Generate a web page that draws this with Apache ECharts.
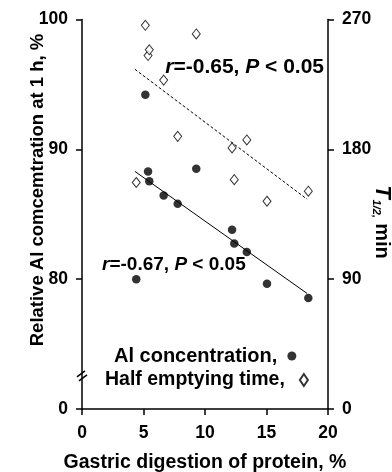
<!DOCTYPE html>
<html>
<head>
<meta charset="utf-8">
<script src="https://cdn.jsdelivr.net/npm/echarts@6/dist/echarts.min.js"></script>
<style>
  html, body { margin: 0; padding: 0; background: #fff; }
  #chart { width: 392px; height: 472px; }
</style>
</head>
<body>
<div id="chart"></div>
<script>
// gastric digestion of protein, % (shared by both series)
const digestion = [4.41, 5.15, 5.37, 5.47, 6.64, 7.78, 9.29, 12.2, 12.38, 13.4, 15.04, 18.4];
// relative Al concentration at 1 h, %
const alConc = [80.0, 94.2, 88.3, 87.55, 86.45, 85.8, 88.5, 83.8, 82.75, 82.1, 79.65, 78.55];
// half emptying time, min
const halfTime = [157, 266, 245, 249, 228, 189, 260, 181, 159, 186.5, 144, 151];

// regression line end points
const alFitX = [4.3, 18.3];
const alFitY = [88.3, 78.9];
const tFitX = [4.3, 18.3];
const tFitY = [235.5, 145.4];

const xTicks = [0, 5, 10, 15, 20];
const leftTicks = [70, 80, 90, 100]; // 70 is shown as 0 (axis break)
const rightTicks = [0, 90, 180, 270];

const font = 'Liberation Sans, Arial, sans-serif';

const chart = echarts.init(document.getElementById('chart'));

const axisCommon = {
  axisLine: { show: true, lineStyle: { color: '#000', width: 1.5 } },
  axisTick: { show: true, inside: false, length: 6, lineStyle: { color: '#000', width: 1.5 } },
  splitLine: { show: false },
  axisLabel: { color: '#000', fontFamily: font, fontWeight: 'bold', fontSize: 17.5 },
  nameTextStyle: { color: '#000', fontFamily: font, fontWeight: 'bold', fontSize: 18.5 },
};

const legendText = { color: '#000', fontFamily: font, fontWeight: 'bold', fontSize: 19.5 };

const option = {
  animation: false,
  grid: { left: 82, right: 64, top: 19.5, bottom: 63, outerBoundsMode: 'none' },
  legend: [
    {
      data: ['Al concentration,'],
      orient: 'vertical',
      align: 'right',
      left: 114,
      top: 346,
      padding: 0,
      itemWidth: 9,
      itemHeight: 9,
      textStyle: { ...legendText, fontSize: 20, padding: [0, 5, 0, 0] },
    },
    {
      data: ['Half emptying time,'],
      orient: 'vertical',
      align: 'right',
      left: 105,
      top: 370,
      padding: 0,
      itemWidth: 8,
      itemHeight: 12,
      symbolKeepAspect: false,
      textStyle: { ...legendText, padding: [0, 10, 0, 0] },
    },
  ],
  xAxis: {
    ...axisCommon,
    type: 'value',
    min: xTicks[0],
    max: xTicks[xTicks.length - 1],
    interval: 5,
    axisLabel: { ...axisCommon.axisLabel, margin: 15 },
    name: 'Gastric digestion of protein, %',
    nameLocation: 'middle',
    nameGap: 44,
    nameTextStyle: { ...axisCommon.nameTextStyle, fontSize: 19.5 },
  },
  yAxis: [
    {
      ...axisCommon,
      type: 'value',
      min: leftTicks[0],
      max: leftTicks[leftTicks.length - 1],
      interval: 10,
      axisLabel: {
        ...axisCommon.axisLabel,
        margin: 14,
        formatter: (v) => (v === 70 ? '0' : String(v)),
      },
    },
    {
      ...axisCommon,
      type: 'value',
      position: 'right',
      min: rightTicks[0],
      max: rightTicks[rightTicks.length - 1],
      interval: 90,
      axisLabel: { ...axisCommon.axisLabel, margin: 14 },
    },
  ],
  series: [
    {
      name: 'Al fit',
      type: 'line',
      data: alFitX.map((x, i) => [x, alFitY[i]]),
      symbol: 'none',
      lineStyle: { color: '#000', width: 1 },
      silent: true,
    },
    {
      name: 'T fit',
      type: 'line',
      yAxisIndex: 1,
      data: tFitX.map((x, i) => [x, tFitY[i]]),
      symbol: 'none',
      lineStyle: { color: '#000', width: 1, type: [3, 2] },
      silent: true,
    },
    {
      name: 'Half emptying time,',
      type: 'scatter',
      yAxisIndex: 1,
      data: digestion.map((x, i) => [x, halfTime[i]]),
      symbol: 'diamond',
      symbolSize: [8, 10],
      itemStyle: { color: '#fff', borderColor: '#000', borderWidth: 1 },
    },
    {
      name: 'Al concentration,',
      type: 'scatter',
      data: digestion.map((x, i) => [x, alConc[i]]),
      symbol: 'circle',
      symbolSize: 8.5,
      itemStyle: { color: '#000' },
    },
  ],
};

chart.setOption(option);

// annotations, axis titles and axis break
function annRich(size) {
  return {
    i: { fontFamily: font, fontWeight: 'bold', fontStyle: 'italic', fontSize: size, fill: '#000' },
    b: { fontFamily: font, fontWeight: 'bold', fontSize: size, fill: '#000' },
  };
}
const ann1 = chart.convertToPixel({ xAxisIndex: 0, yAxisIndex: 0 }, [6.77, 96.3]);
const ann2 = chart.convertToPixel({ xAxisIndex: 0, yAxisIndex: 0 }, [1.63, 81.1]);
const brk = chart.convertToPixel({ xAxisIndex: 0, yAxisIndex: 0 }, [0, 72.55]);

chart.setOption({
  graphic: [
    {
      type: 'text',
      x: 38,
      y: 190,
      rotation: Math.PI / 2,
      style: {
        text: 'Relative Al comcemtration at 1 h, %',
        fontFamily: font,
        fontWeight: 'bold',
        fontSize: 18.5,
        fill: '#000',
        align: 'center',
        verticalAlign: 'middle',
      },
    },
    {
      type: 'text',
      x: 382,
      y: 222,
      rotation: -Math.PI / 2,
      style: {
        text: '{i|T}{s|1/2,} {m|min}',
        rich: {
          i: { fontFamily: font, fontWeight: 'bold', fontStyle: 'italic', fontSize: 22, fill: '#000' },
          s: { fontFamily: font, fontWeight: 'bold', fontStyle: 'italic', fontSize: 11, fill: '#000', padding: [11, 2, 0, 1] },
          m: { fontFamily: font, fontWeight: 'bold', fontSize: 20, fill: '#000' },
        },
        align: 'center',
        verticalAlign: 'middle',
      },
    },
    {
      type: 'text',
      x: ann1[0],
      y: ann1[1],
      style: {
        text: '{i|r}{b|=-0.65, }{i|P}{b| < 0.05}',
        rich: annRich(21),
        verticalAlign: 'middle',
      },
    },
    {
      type: 'text',
      x: ann2[0],
      y: ann2[1],
      style: {
        text: '{i|r}{b|=-0.67, }{i|P}{b| < 0.05}',
        rich: annRich(19),
        verticalAlign: 'middle',
      },
    },
    {
      type: 'rect',
      shape: { x: brk[0] - 3, y: brk[1] - 3, width: 6, height: 6 },
      style: { fill: '#fff' },
    },
    {
      type: 'line',
      shape: { x1: brk[0] - 5, y1: brk[1] + 1, x2: brk[0] + 3, y2: brk[1] - 5 },
      style: { stroke: '#000', lineWidth: 1.5 },
    },
    {
      type: 'line',
      shape: { x1: brk[0] - 3, y1: brk[1] + 5, x2: brk[0] + 5, y2: brk[1] - 1 },
      style: { stroke: '#000', lineWidth: 1.5 },
    },
  ],
});
</script>
</body>
</html>
